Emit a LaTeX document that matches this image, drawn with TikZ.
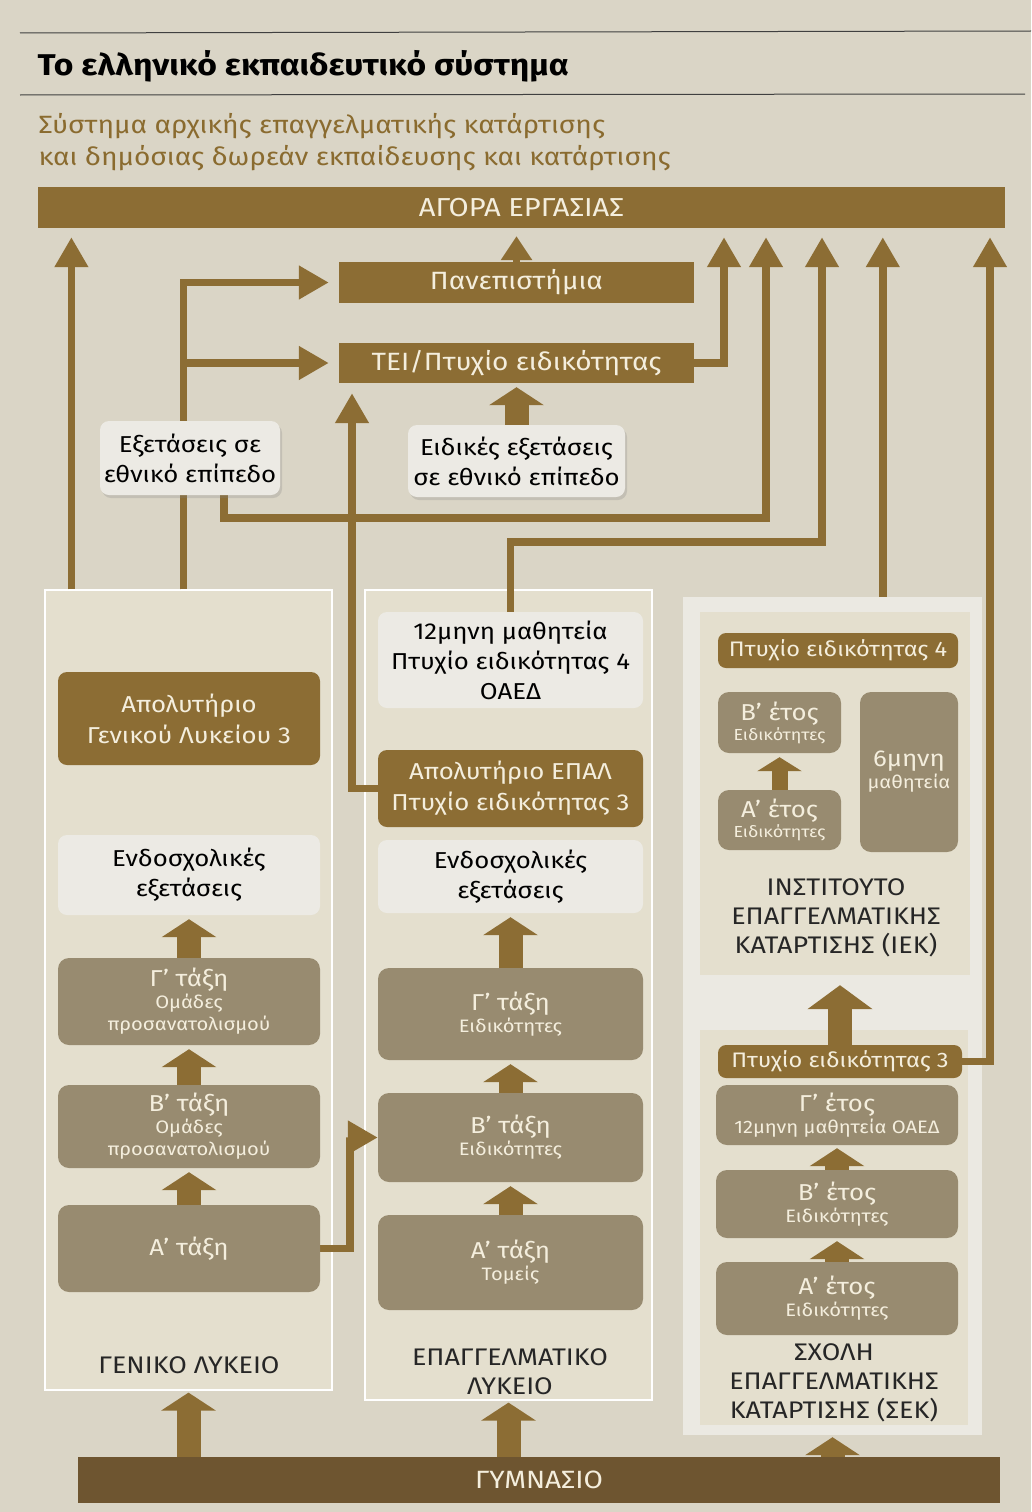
\documentclass[tikz,border=0pt]{standalone}
\usepackage{fontspec}
\setmainfont[FakeStretch=1.12]{Fira Sans}
\usepackage{xcolor}
\usepackage{tikz}
\usetikzlibrary{arrows.meta,positioning,shadows}

\pgfdeclarelayer{panels}
\pgfdeclarelayer{lines}
\pgfsetlayers{panels,lines,main}

\definecolor{paper}{HTML}{DAD5C6}
\definecolor{brownD}{HTML}{8C6D34}
\definecolor{brownG}{HTML}{6E5530}
\definecolor{classfill}{HTML}{988B70}
\definecolor{lightfill}{HTML}{ECEAE4}
\definecolor{panelfill}{HTML}{E4DFCE}
\definecolor{outerfill}{HTML}{EBE9E2}
\definecolor{cream}{HTML}{F4EEDD}
\definecolor{subbrown}{HTML}{8A6B2F}

\newcommand{\boxhead}[1]{{\fontsize{23}{26}\selectfont #1}}

\begin{document}
\begin{tikzpicture}[x=1pt, y=-1pt,
bar/.style={fill=brownD, text=cream, inner sep=0pt, font=\fontsize{25}{28}\selectfont},
darkbox/.style={fill=brownD, text=cream, rounded corners=9pt, align=center, inner sep=0pt, font=\fontsize{23}{31}\selectfont},
lightbox/.style={fill=lightfill, text=black, rounded corners=9pt, align=center, inner sep=0pt, font=\fontsize{23}{30}\selectfont},
shadowbox/.style={lightbox, drop shadow={shadow xshift=2pt, shadow yshift=-3pt, opacity=0.25}},
classbox/.style={fill=classfill, text=cream, rounded corners=11pt, align=center, inner sep=0pt, font=\fontsize{18}{22}\selectfont},
badge/.style={fill=brownD, text=cream, rounded corners=8pt, inner sep=0pt, font=\fontsize{21}{24}\selectfont},
panel/.style={fill=panelfill, draw=white, line width=1.2pt, inner sep=0pt},
schoolname/.style={align=center, text=black!85, font=\fontsize{24}{29}\selectfont},
conn/.style={draw=brownD, line width=7.5pt, -{Triangle[width=32pt,length=30pt]}},
fat/.style={draw=brownD, line width=24pt, -{Triangle[width=54pt,length=18pt]}, shorten >=4pt}
]
\useasboundingbox (0,0) rectangle (1031,1512);

% page, header
\begin{pgfonlayer}{panels}
\fill[paper] (0,0) rectangle (1031,1512);
\node[panel, minimum width=287pt, minimum height=800pt] (glpanel) at (188.5,990) {};
\node[panel, minimum width=287pt, minimum height=810pt] (eppanel) at (508.5,995) {};
\node[fill=outerfill, inner sep=0pt, minimum width=299pt, minimum height=838pt] (col3) at (832.5,1016) {};
\node[fill=panelfill, inner sep=0pt, minimum width=270pt, minimum height=363pt] (iekpanel) at (835,793.5) {};
\node[fill=panelfill, inner sep=0pt, minimum width=268pt, minimum height=395pt] (sekpanel) at (834,1227.5) {};
\end{pgfonlayer}

\draw[black!75, line width=1pt] (20,33) -- (1031,31);
\draw[black!75, line width=1pt] (20,95) -- (1025,94);
\node[anchor=base west, font=\fontsize{30}{34}\selectfont\bfseries] (title) at (34,75) {Το ελληνικό εκπαιδευτικό σύστημα};
\node[anchor=base west, text=subbrown, font=\fontsize{25}{28}\selectfont] (sub1) at (35,133) {Σύστημα αρχικής επαγγελματικής κατάρτισης};
\node[anchor=base west, text=subbrown, font=\fontsize{25}{28}\selectfont] (sub2) at (35,165) {και δημόσιας δωρεάν εκπαίδευσης και κατάρτισης};

% top level
\node[bar, font=\fontsize{26}{29}\selectfont, minimum width=967pt, minimum height=41pt] (market) at (521.5,207.5) {ΑΓΟΡΑ ΕΡΓΑΣΙΑΣ};
\node[bar, minimum width=355pt, minimum height=41pt] (uni) at (516.5,282.5) {Πανεπιστήμια};
\node[bar, minimum width=355pt, minimum height=40pt] (tei) at (516.5,363) {ΤΕΙ/Πτυχίο ειδικότητας};
\node[shadowbox, minimum width=180pt, minimum height=74pt] (natex) at (190,458) {Εξετάσεις σε\\εθνικό επίπεδο};
\node[shadowbox, minimum width=217pt, minimum height=72pt] (specex) at (516.5,461) {Ειδικές εξετάσεις\\σε εθνικό επίπεδο};

% general lyceum
\node[darkbox, minimum width=262pt, minimum height=93pt] (glcert) at (189,718.5) {Απολυτήριο\\Γενικού Λυκείου 3};
\node[lightbox, minimum width=262pt, minimum height=80pt] (glexam) at (189,875) {Ενδοσχολικές\\εξετάσεις};
\node[classbox, minimum width=262pt, minimum height=87pt] (glc) at (189,1001.5) {\boxhead{Γ’ τάξη}\\Ομάδες\\προσανατολισμού};
\node[classbox, minimum width=262pt, minimum height=83pt] (glb) at (189,1126.5) {\boxhead{Β’ τάξη}\\Ομάδες\\προσανατολισμού};
\node[classbox, minimum width=262pt, minimum height=87pt] (gla) at (189,1248.5) {\boxhead{Α’ τάξη}};
\node[schoolname] (glname) at (189,1365) {ΓΕΝΙΚΟ ΛΥΚΕΙΟ};

% vocational lyceum
\node[lightbox, minimum width=265pt, minimum height=96pt] (apprent) at (510.5,660) {12μηνη μαθητεία\\Πτυχίο ειδικότητας 4\\ΟΑΕΔ};
\node[darkbox, minimum width=265pt, minimum height=77pt] (epalcert) at (510.5,788.5) {Απολυτήριο ΕΠΑΛ\\Πτυχίο ειδικότητας 3};
\node[lightbox, minimum width=265pt, minimum height=73pt] (epexam) at (510.5,876.5) {Ενδοσχολικές\\εξετάσεις};
\node[classbox, minimum width=265pt, minimum height=92pt] (epc) at (510.5,1014) {\boxhead{Γ’ τάξη}\\Ειδικότητες};
\node[classbox, minimum width=265pt, minimum height=89pt] (epb) at (510.5,1137.5) {\boxhead{Β’ τάξη}\\Ειδικότητες};
\node[classbox, minimum width=265pt, minimum height=95pt] (epa) at (510.5,1262.5) {\boxhead{Α’ τάξη}\\Τομείς};
\node[schoolname] (epname) at (510,1372) {ΕΠΑΓΓΕΛΜΑΤΙΚΟ\\ΛΥΚΕΙΟ};

% IEK
\node[badge, minimum width=240pt, minimum height=35pt] (iekcert) at (838,650.5) {Πτυχίο ειδικότητας 4};
\node[classbox, font=\fontsize{16}{20}\selectfont, minimum width=123pt, minimum height=61pt] (iekb) at (779.5,722.5) {\boxhead{Β’ έτος}\\Ειδικότητες};
\node[classbox, font=\fontsize{16}{20}\selectfont, minimum width=123pt, minimum height=60pt] (ieka) at (779.5,820) {\boxhead{Α’ έτος}\\Ειδικότητες};
\node[classbox, minimum width=98pt, minimum height=160pt] (iek6) at (909,772) {\boxhead{6μηνη}\\μαθητεία};
\node[schoolname] (iekname) at (836,918) {ΙΝΣΤΙΤΟΥΤΟ\\ΕΠΑΓΓΕΛΜΑΤΙΚΗΣ\\ΚΑΤΑΡΤΙΣΗΣ (ΙΕΚ)};

% SEK
\node[badge, minimum width=244pt, minimum height=33pt] (sekcert) at (840,1061.5) {Πτυχίο ειδικότητας 3};
\node[classbox, minimum width=242pt, minimum height=60pt] (sekc) at (837,1115) {\boxhead{Γ’ έτος}\\12μηνη μαθητεία ΟΑΕΔ};
\node[classbox, minimum width=242pt, minimum height=68pt] (sekb) at (837,1204) {\boxhead{Β’ έτος}\\Ειδικότητες};
\node[classbox, minimum width=242pt, minimum height=73pt] (seka) at (837,1298.5) {\boxhead{Α’ έτος}\\Ειδικότητες};
\node[schoolname] (sekname) at (834,1383) {ΣΧΟΛΗ\\ΕΠΑΓΓΕΛΜΑΤΙΚΗΣ\\ΚΑΤΑΡΤΙΣΗΣ (ΣΕΚ)};

\node[bar, fill=brownG, minimum width=922pt, minimum height=46pt] (gym) at (539,1480) {ΓΥΜΝΑΣΙΟ};

% turning points
\coordinate (glleft) at ([xshift=27pt]glpanel.north west);
\coordinate (glexit) at ([xshift=139pt]glpanel.north west);
\coordinate (natexout) at ([xshift=34pt]natex.south);
\coordinate (natturn) at (766,518);
\coordinate (teiturn) at (724,363);
\coordinate (appturn) at (822,542);
\coordinate (iekexit) at ([xshift=200pt]col3.north west);
\coordinate (sekturn) at (990,1061.5);
\coordinate (epalturn) at (352,788.5);
\coordinate (glcross) at (350,1137.5);

\begin{pgfonlayer}{lines}
\draw[conn, shorten >=9pt] (glleft) -- (glleft |- market.south);
\draw[conn, -{Triangle[width=30pt,length=24pt]}, shorten >=8pt] (uni.north) -- (uni.north |- market.south);
\draw[conn, shorten >=10pt] (glexit) |- (uni.west);
\draw[conn, shorten >=10pt] (glexit) |- (tei.west);
\draw[conn, shorten >=9pt] (natexout) |- (natturn) -- (natturn |- market.south);
\draw[conn, shorten >=9pt] (tei.east) -| (teiturn |- market.south);
\draw[conn, shorten >=9pt] (apprent.north) |- (appturn) -- (appturn |- market.south);
\draw[conn, shorten >=9pt] (iekexit) -- (iekexit |- market.south);
\draw[conn, shorten >=9pt] (sekcert.east) -| (sekturn |- market.south);
\draw[conn, shorten >=10pt] (epalcert.west) -| (epalturn |- tei.south);
\draw[conn] (gla.east) -| (glcross) -- (epb.west);

\draw[fat] (specex.north) -- (tei.south);
\draw[fat] (glc.north) -- (glexam.south);
\draw[fat] (glb.north) -- (glc.south);
\draw[fat] (gla.north) -- (glb.south);
\draw[fat] (epc.north) -- (epexam.south);
\draw[fat] (epb.north) -- (epc.south);
\draw[fat] (epa.north) -- (epb.south);
\draw[fat, line width=16pt, -{Triangle[width=44pt,length=14pt]}] (ieka.north) -- (iekb.south);
\draw[fat, -{Triangle[width=64pt,length=24pt]}, shorten >=10pt] (sekcert.north) -- (sekcert.north |- iekpanel.south);
\draw[fat, shorten >=3pt] (sekb.north) -- (sekc.south);
\draw[fat, shorten >=3pt] (seka.north) -- (sekb.south);
\draw[fat, shorten >=2pt] (gym.north -| glpanel.south) -- (glpanel.south);
\draw[fat, shorten >=2pt] (gym.north -| eppanel.south) -- (eppanel.south);
\draw[fat, shorten >=2pt] (gym.north -| col3.south) -- (col3.south);
\end{pgfonlayer}
\end{tikzpicture}
\end{document}
